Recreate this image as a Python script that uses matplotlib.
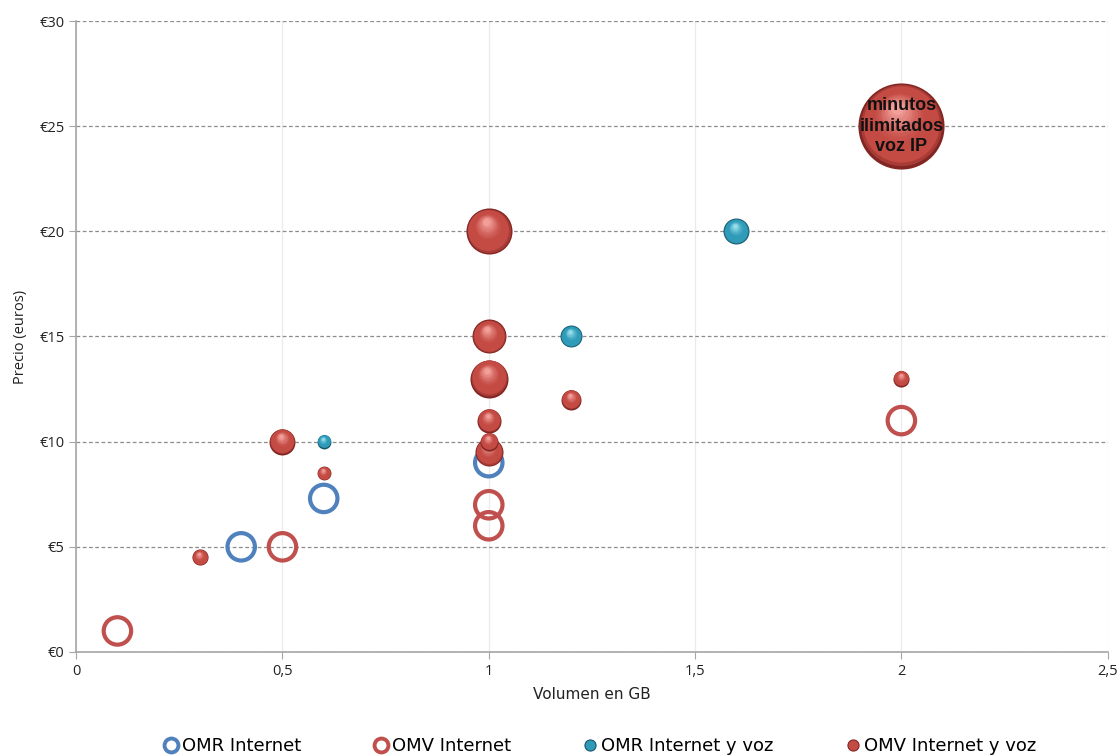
import numpy as np
import matplotlib
matplotlib.use("Agg")
import matplotlib.pyplot as plt
from matplotlib.lines import Line2D
from matplotlib.transforms import ScaledTranslation
from matplotlib.colors import to_rgb

# Ofertas de datos moviles: volumen (GB), precio (euros) y tamano de burbuja
omr_internet_gb = [0.4, 0.6, 1.0]
omr_internet_precio = [5, 7.3, 9]

omv_internet_gb = [0.1, 0.5, 1.0, 1.0, 2.0]
omv_internet_precio = [1, 5, 7, 6, 11]

omr_voz_gb = [0.6, 1.2, 1.6]
omr_voz_precio = [10, 15, 20]
omr_voz_burbuja = [2.6, 6.5, 9.1]

omv_voz_gb = [2.0, 1.0, 1.0, 1.0, 0.5, 1.0, 1.2, 1.0, 1.0, 0.6, 0.3, 2.0]
omv_voz_precio = [25, 20, 13, 15, 10, 11, 12, 9.5, 10, 8.5, 4.5, 13]
omv_voz_burbuja = [100, 28.6, 19.5, 15.6, 9.1, 7.8, 5.4, 10.6, 4.4, 2.6, 3.5, 3.5]

leyenda = ["OMR Internet", "OMV Internet", "OMR Internet y voz", "OMV Internet y voz"]
x_ticks = [0, 0.5, 1, 1.5, 2, 2.5]
x_ticklabels = ["0", "0,5", "1", "1,5", "2", "2,5"]
y_ticks = [0, 5, 10, 15, 20, 25, 30]
y_ticklabels = ["€0", "€5", "€10", "€15", "€20", "€25", "€30"]

AZUL = "#4F81BD"
ROJO = "#C0504D"

# colores de las esferas: base, borde oscuro, brillo
ROJO_ESF = ("#C44B44", "#822623", "#F29E99")
TEAL_ESF = ("#2F9BB8", "#17566B", "#96DDEC")

# radio en puntos de la burbuja mayor (valor 100)
RADIO_MAX = 31.0


def mezcla(c1, c2, t):
    a, b = np.array(to_rgb(c1)), np.array(to_rgb(c2))
    return tuple(a + (b - a) * t)


def esfera(ax, x, y, r, colores, z):
    """Dibuja una burbuja con sombreado de esfera (capas concentricas)."""
    base, oscuro, claro = colores
    fig = ax.figure
    n = 16
    for i in range(n):
        t = i / (n - 1)
        radio = r * (1 - 0.85 * t)
        dx = -0.10 * r * t
        dy = 0.42 * r * t
        if t < 0.12:
            col = mezcla(oscuro, base, t / 0.12)
        elif t < 0.45:
            col = base
        else:
            col = mezcla(base, claro, ((t - 0.45) / 0.55) ** 1.3)
        tr = ax.transData + ScaledTranslation(dx / 72, dy / 72, fig.dpi_scale_trans)
        ax.scatter([x], [y], s=(2 * radio) ** 2, color=col, linewidths=0,
                   transform=tr, zorder=z, clip_on=False)


fig = plt.figure(figsize=(11.2, 7.56), dpi=100)
ax = fig.add_axes([0.068, 0.1376, 0.921, 0.8346])

# Series sin voz: anillos
ax.scatter(omr_internet_gb, omr_internet_precio, s=390, facecolors="none",
           edgecolors=AZUL, linewidths=3.0, zorder=3)
ax.scatter(omv_internet_gb, omv_internet_precio, s=390, facecolors="none",
           edgecolors=ROJO, linewidths=3.0, zorder=3)

# Series con voz: esferas
z = 4
for gx, py, b in zip(omr_voz_gb, omr_voz_precio, omr_voz_burbuja):
    esfera(ax, gx, py, RADIO_MAX * np.sqrt(b / 100), TEAL_ESF, z)
    z += 1
for gx, py, b in zip(omv_voz_gb, omv_voz_precio, omv_voz_burbuja):
    esfera(ax, gx, py, RADIO_MAX * np.sqrt(b / 100), ROJO_ESF, z)
    z += 1

ax.text(omv_voz_gb[0], omv_voz_precio[0], "minutos\nilimitados\nvoz IP",
        ha="center", va="center", fontsize=13, fontweight="bold",
        family="Liberation Sans", color="#111111", linespacing=1.25, zorder=100)

ax.set_xlim(0, 2.5)
ax.set_ylim(0, 30)
ax.set_xticks(x_ticks)
ax.set_xticklabels(x_ticklabels)
ax.set_yticks(y_ticks)
ax.set_yticklabels(y_ticklabels)

ax.yaxis.grid(True, linestyle=(0, (3, 2)), color="#8C8C8C", linewidth=0.9)
ax.xaxis.grid(True, linestyle="-", color="#EBEBEB", linewidth=0.9)
ax.set_axisbelow(True)

for lado in ["top", "right"]:
    ax.spines[lado].set_visible(False)
for lado in ["left", "bottom"]:
    ax.spines[lado].set_color("#A6A6A6")
    ax.spines[lado].set_linewidth(1.2)
ax.tick_params(axis="both", direction="out", length=5, color="#A6A6A6",
               labelsize=10.5, labelcolor="#222222")
for lbl in ax.get_xticklabels() + ax.get_yticklabels():
    lbl.set_family("Open Sans")

ax.set_xlabel("Volumen en GB", fontsize=11, family="DejaVu Sans", color="#222222", labelpad=6)
ax.set_ylabel("Precio (euros)", fontsize=10.5, family="Open Sans", color="#222222", labelpad=8)

handles = [
    Line2D([], [], marker="o", linestyle="none", markersize=10, markerfacecolor="none",
           markeredgecolor=AZUL, markeredgewidth=2.8),
    Line2D([], [], marker="o", linestyle="none", markersize=10, markerfacecolor="none",
           markeredgecolor=ROJO, markeredgewidth=2.8),
    Line2D([], [], marker="o", linestyle="none", markersize=8, markerfacecolor=TEAL_ESF[0],
           markeredgecolor=TEAL_ESF[1], markeredgewidth=0.8),
    Line2D([], [], marker="o", linestyle="none", markersize=8, markerfacecolor=ROJO_ESF[0],
           markeredgecolor=ROJO_ESF[1], markeredgewidth=0.8),
]
fig.legend(handles, leyenda, loc="center", bbox_to_anchor=(0.535, 0.013), ncol=4,
           frameon=False, prop={"family": "DejaVu Sans", "size": 13},
           handletextpad=0.1, columnspacing=3.9, handlelength=1.0)

fig.savefig("out.png", dpi=100)
